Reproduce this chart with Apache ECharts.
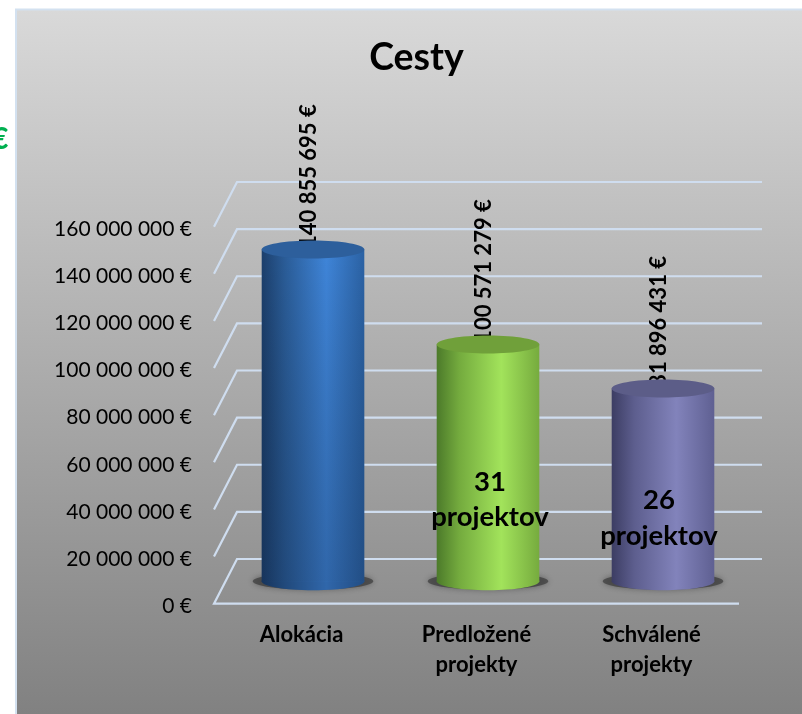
<!DOCTYPE html>
<html>
<head>
<meta charset="utf-8">
<style>html,body{margin:0;padding:0;background:#fff;overflow:hidden}#c{width:802px;height:714px}</style>
<script src="https://cdn.jsdelivr.net/npm/echarts@6/dist/echarts.min.js"></script>
</head>
<body>
<div id="c"></div>
<script>
const categories = ['Alokácia', 'Predložené\nprojekty', 'Schválené\nprojekty'];
const values = [140855695, 100571279, 81896431];
const projectCounts = ['', '31', '26'];
const projectWord = 'projektov';
const tickValues = [0, 20000000, 40000000, 60000000, 80000000, 100000000, 120000000, 140000000, 160000000];
const chartTitle = 'Cesty';

const FONT = 'Lato';
const DEPTH_X = 23, DEPTH_Y = 44.7;
const CYL_RX = 51.3, CYL_RY = 9;
const palette = [
  {stops: ['#1c3f6c', '#2a5c97', '#3f85d9', '#2b62a4'], top: '#2d5f9c', fade: 'rgba(10,25,50,0.28)'},
  {stops: ['#4c7a2a', '#74ab3e', '#a2e35b', '#76ab3e'], top: '#70a03a', fade: 'rgba(0,0,0,0)'},
  {stops: ['#3c3d63', '#5d5e8e', '#8283bb', '#5f6092'], top: '#5c5d88', fade: 'rgba(0,0,0,0)'}
];
const countOffsets = [null, 2, -4];
const countLevels = [null, 0.44, 0.444];
const fmt = v => String(v).replace(/\B(?=(\d{3})+(?!\d))/g, ' ') + ' €';

function wallItem(params, api) {
  const p = api.coord([0, api.value(1)]);
  const cs = params.coordSys;
  const x0 = cs.x, x1 = cs.x + cs.width, y = p[1];
  const points = [[x0, y], [x0 + DEPTH_X, y - DEPTH_Y], [x1 + DEPTH_X, y - DEPTH_Y]];
  if (api.value(1) === 0) { points.unshift([x1, y]); }
  return {type: 'polyline', shape: {points}, style: {stroke: '#cfddef', lineWidth: 2.2, fill: null}, silent: true};
}

function cylinderItem(params, api) {
  const i = params.dataIndex;
  const pal = palette[i];
  const v = api.coord([i, api.value(1)]);
  const b = api.coord([i, 0]);
  const cx = b[0] + DEPTH_X / 2;
  const base = b[1] - DEPTH_Y / 2;
  const top = v[1] - DEPTH_Y / 2;
  const side = {type: 'linear', x: 0, y: 0, x2: 1, y2: 0, colorStops: [
    {offset: 0, color: pal.stops[0]}, {offset: 0.22, color: pal.stops[1]},
    {offset: 0.63, color: pal.stops[2]}, {offset: 1, color: pal.stops[3]}]};
  const fade = {type: 'linear', x: 0, y: 0, x2: 0, y2: 1, colorStops: [
    {offset: 0, color: 'rgba(0,0,0,0)'}, {offset: 1, color: pal.fade}]};
  const h = base - top;
  return {type: 'group', children: [
    {type: 'ellipse', shape: {cx, cy: base, rx: CYL_RX + 9, ry: CYL_RY - 0.5},
      style: {fill: 'rgba(60,60,60,0.72)', shadowBlur: 6, shadowColor: 'rgba(50,50,50,0.7)'}},
    {type: 'text', x: cx - 4, y: top - 1.5, rotation: Math.PI / 2,
      style: {text: fmt(api.value(1)), font: 'bold 22px ' + FONT, fill: '#000', align: 'left', verticalAlign: 'middle'}},
    {type: 'ellipse', shape: {cx, cy: base, rx: CYL_RX, ry: CYL_RY}, style: {fill: side}},
    {type: 'ellipse', shape: {cx, cy: base, rx: CYL_RX, ry: CYL_RY}, style: {fill: pal.fade}},
    {type: 'rect', shape: {x: cx - CYL_RX, y: top, width: CYL_RX * 2, height: h}, style: {fill: side}},
    {type: 'rect', shape: {x: cx - CYL_RX, y: top, width: CYL_RX * 2, height: h}, style: {fill: fade}},
    {type: 'ellipse', shape: {cx, cy: top, rx: CYL_RX, ry: CYL_RY}, style: {fill: pal.top}}
  ]};
}

function countItem(params, api) {
  const i = params.dataIndex;
  if (!projectCounts[i]) return null;
  const b = api.coord([i, 0]);
  const cx = b[0] + DEPTH_X / 2 + countOffsets[i];
  const cy = api.coord([i, values[i] * countLevels[i]])[1];
  return {type: 'text', x: cx, y: cy, z2: 10,
    style: {text: projectCounts[i] + '\n' + projectWord, font: 'bold 27.5px ' + FONT, lineHeight: 35.5,
      fill: '#000', align: 'center', verticalAlign: 'middle'}};
}

const chart = echarts.init(document.getElementById('c'), null, {renderer: 'canvas'});
chart.setOption({
  animation: false,
  backgroundColor: '#fff',
  graphic: [
    {type: 'rect', z: -10, shape: {x: 16, y: 9.5, width: 800, height: 720},
      style: {fill: {type: 'linear', x: 0, y: 0, x2: 0, y2: 1, colorStops: [
        {offset: 0, color: '#d9d9d9'}, {offset: 1, color: '#7f7f7f'}]},
        stroke: '#d3e1f0', lineWidth: 2}},
    {type: 'text', z: 5, x: 416.5, y: 58, style: {text: chartTitle, font: 'bold 37.5px ' + FONT, fill: '#000', align: 'center', verticalAlign: 'middle'}},
    {type: 'text', z: 5, x: 8.5, y: 139, style: {text: '€', font: 'bold 30px ' + FONT, fill: '#00b050', align: 'right', verticalAlign: 'middle'}}
  ],
  grid: {left: 214, top: 226.7, width: 525, height: 377},
  xAxis: {type: 'category', data: categories,
    axisLine: {show: false}, axisTick: {show: false}, splitLine: {show: false},
    axisLabel: {fontFamily: FONT, fontWeight: 'bold', fontSize: 22, color: '#000', lineHeight: 30, margin: 16, interval: 0}},
  yAxis: {type: 'value', min: 0, max: 160000000, interval: 20000000,
    axisLine: {show: false}, axisTick: {show: false}, splitLine: {show: false},
    axisLabel: {margin: 22, formatter: v => '{t|' + fmt(v) + '}',
      rich: {t: {fontFamily: FONT, fontSize: 21, color: '#000', padding: [5, 0, 0, 0]}}}},
  series: [
    {type: 'custom', z: 1, silent: true, data: tickValues.map(v => [0, v]), encode: {x: 0, y: 1}, renderItem: wallItem},
    {type: 'custom', z: 2, silent: true, data: values.map((v, i) => [i, v]), encode: {x: 0, y: 1}, renderItem: cylinderItem},
    {type: 'custom', z: 3, silent: true, data: values.map((v, i) => [i, v]), encode: {x: 0, y: 1}, renderItem: countItem}
  ]
});
</script>
</body>
</html>
